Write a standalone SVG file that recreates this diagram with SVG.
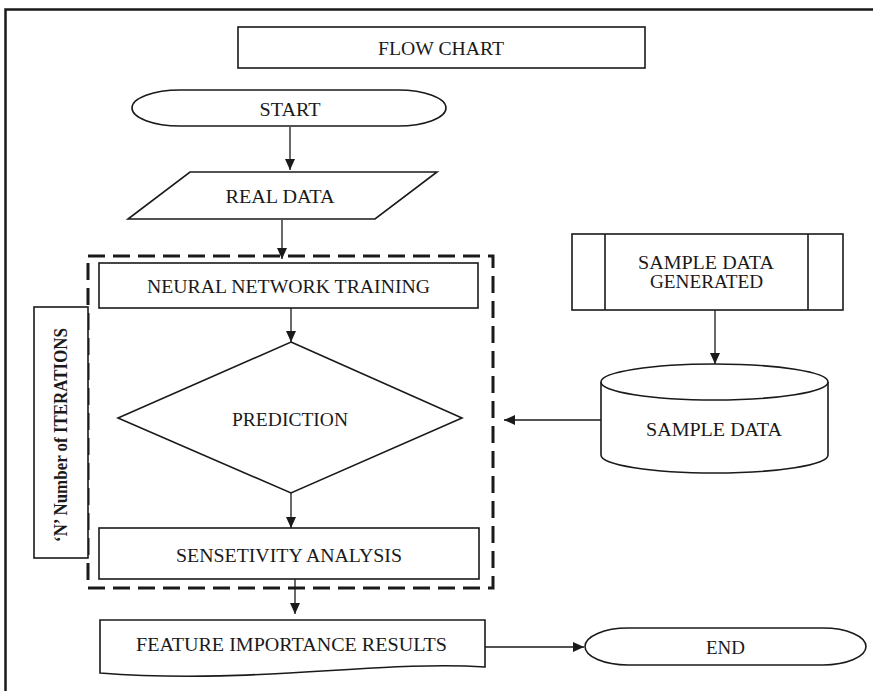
<svg xmlns="http://www.w3.org/2000/svg" width="873" height="691" viewBox="0 0 873 691">
<style>
.s{fill:#fff;stroke:#1a1a1a;stroke-width:1.6}
.t{font-family:"Liberation Serif","Times New Roman",serif;font-size:18px;fill:#1a1a1a;text-anchor:middle}
.c{fill:none;stroke:#1a1a1a;stroke-width:1.3}
.frame{fill:none;stroke:#1a1a1a;stroke-width:2.5}
</style>
<defs>
<marker id="ah" markerUnits="userSpaceOnUse" markerWidth="12" markerHeight="12" refX="11" refY="5" orient="auto">
<path d="M0,0 L11,5 L0,10 Z" fill="#1a1a1a"/>
</marker>
</defs>
<rect width="873" height="691" fill="#fff"/>
<path class="frame" d="M5.5,691 V9.5 H873"/>

<g id="title">
<rect class="s" x="238" y="27" width="407" height="41"/>
<text class="t" x="441" y="55" textLength="126" lengthAdjust="spacingAndGlyphs">FLOW CHART</text>
</g>

<g id="start">
<path class="s" d="M180,90 H398 A48,18 0 0 1 398,126 H180 A48,18 0 0 1 180,90 Z"/>
<text class="t" x="290" y="116" textLength="61" lengthAdjust="spacingAndGlyphs">START</text>
</g>

<g id="real-data">
<path class="s" d="M190,172 L437,172 L375,219 L128,219 Z"/>
<text class="t" x="280" y="203" textLength="109" lengthAdjust="spacingAndGlyphs">REAL DATA</text>
</g>

<g id="iterations-loop">
<rect x="88" y="256" width="405" height="332" fill="none" stroke="#1a1a1a" stroke-width="3" stroke-dasharray="17,8"/>
</g>

<g id="iterations-label">
<rect class="s" x="34" y="307" width="54" height="251"/>
<text class="t" x="0" y="0" font-weight="bold" transform="translate(67,435) rotate(-90)" textLength="214" lengthAdjust="spacingAndGlyphs">‘N’ Number of ITERATIONS</text>
</g>

<g id="nn-training">
<rect class="s" x="99" y="263" width="379" height="45"/>
<text class="t" x="288.5" y="293" textLength="283" lengthAdjust="spacingAndGlyphs">NEURAL NETWORK TRAINING</text>
</g>

<g id="prediction">
<path class="s" d="M291,342 L462,418 L291,493 L118,418 Z"/>
<text class="t" x="290" y="426" textLength="116" lengthAdjust="spacingAndGlyphs">PREDICTION</text>
</g>

<g id="sensitivity">
<rect class="s" x="99" y="528" width="380" height="51"/>
<text class="t" x="289" y="562" textLength="226" lengthAdjust="spacingAndGlyphs">SENSETIVITY ANALYSIS</text>
</g>

<g id="feature-results">
<path class="s" d="M100,620 H485 V667 C380,660 250,685 100,673 Z"/>
<text class="t" x="291.5" y="651" textLength="311" lengthAdjust="spacingAndGlyphs">FEATURE IMPORTANCE RESULTS</text>
</g>

<g id="end">
<path class="s" d="M628,628 H823 A43,18.5 0 0 1 823,665 H628 A43,18.5 0 0 1 628,628 Z"/>
<text class="t" x="725.5" y="654" textLength="39" lengthAdjust="spacingAndGlyphs">END</text>
</g>

<g id="sample-generated">
<rect class="s" x="572" y="234" width="271" height="76"/>
<line class="s" x1="605" y1="234" x2="605" y2="310"/>
<line class="s" x1="808" y1="234" x2="808" y2="310"/>
<text class="t" x="706" y="269" textLength="136" lengthAdjust="spacingAndGlyphs">SAMPLE DATA</text>
<text class="t" x="706.5" y="288" textLength="113" lengthAdjust="spacingAndGlyphs">GENERATED</text>
</g>

<g id="sample-data">
<path class="s" d="M601,382 V455 A113.5,18 0 0 0 828,455 V382"/>
<ellipse class="s" cx="714.5" cy="382" rx="113.5" ry="18"/>
<text class="t" x="714" y="436" textLength="136" lengthAdjust="spacingAndGlyphs">SAMPLE DATA</text>
</g>

<g id="connectors">
<path class="c" d="M290,127 V170" marker-end="url(#ah)"/>
<path class="c" d="M282,220 V259" marker-end="url(#ah)"/>
<path class="c" d="M291,308 V342" marker-end="url(#ah)"/>
<path class="c" d="M291,493 V528" marker-end="url(#ah)"/>
<path class="c" d="M295,579 V614" marker-end="url(#ah)"/>
<path class="c" d="M485,647 H584" marker-end="url(#ah)"/>
<path class="c" d="M715,310 V364" marker-end="url(#ah)"/>
<path class="c" d="M601,420 H504" marker-end="url(#ah)"/>
</g>
</svg>
